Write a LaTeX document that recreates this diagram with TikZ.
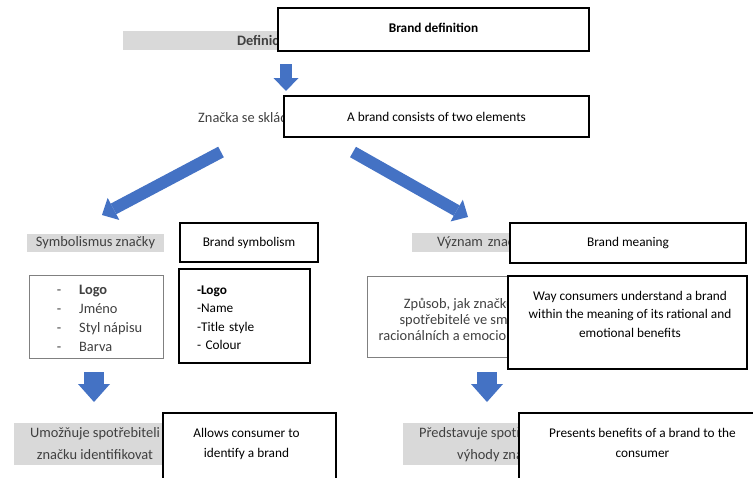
\documentclass[tikz,border=0pt]{standalone}
\usepackage{fontspec}
\setmainfont{Carlito}
\usepackage{tikz}
\usetikzlibrary{positioning, arrows.meta}

\definecolor{arrowblue}{HTML}{4472C4}
\definecolor{bargrey}{HTML}{D9D9D9}
\definecolor{cztext}{HTML}{404040}
\definecolor{czline}{HTML}{808080}

\begin{document}
\fontsize{13.3}{16}\selectfont
\begin{tikzpicture}[x=1pt, y=-1pt,
    every node/.style={inner sep=0pt},
    enbox/.style={draw=black, line width=1.3pt, fill=white, align=center},
    czbox/.style={draw=czline, line width=1pt, fill=white, text=cztext},
    greybar/.style={fill=bargrey, text=cztext, align=center,
        font=\fontsize{14.4}{17}\selectfont},
    cz/.style={text=cztext, font=\fontsize{14.4}{17}\selectfont},
    thinarrow/.style={draw=arrowblue, line width=12pt,
        -{Triangle[width=25pt, length=13pt, line width=0pt]}},
    thickarrow/.style={draw=arrowblue, line width=20pt,
        -{Triangle[width=32pt, length=18pt, line width=0pt]}}]

    \clip (0,0) rectangle (753,477);

    % definition
    \node[greybar, font=\fontsize{14.4}{17}\selectfont\bfseries, minimum height=19pt,
        inner xsep=114pt, text width=60pt, align=left] (defbar) at (267,40.5) {Definice};
    \node[enbox, font=\bfseries, minimum width=311pt, minimum height=43pt]
        (defbox) at (433.5,29.5) {\raisebox{2pt}[\height][\depth]{Brand definition}};

    \coordinate (deffrom) at (286,64);
    \coordinate (defto)   at (286,91);
    \draw[thinarrow] (deffrom) -- (defto);

    % two elements
    \node[cz, anchor=west] (comptext) at (198,118) {Značka se skládá};
    \node[enbox, minimum width=305pt, minimum height=41pt]
        (compbox) at (436.5,116.5) {A brand consists of two elements};

    \coordinate (leftfrom)  at (221,152);
    \coordinate (leftto)    at (102,215);
    \coordinate (rightfrom) at (353,152);
    \coordinate (rightto)   at (468,217);
    \draw[thinarrow] (leftfrom) -- (leftto);
    \draw[thinarrow] (rightfrom) -- (rightto);

    % symbolism
    \node[greybar, minimum width=137pt, minimum height=18pt]
        (symbar) at (95.5,243) {Symbolismus značky};
    \node[enbox, minimum width=138pt, minimum height=39pt]
        (symbox) at (249,242.5) {Brand symbolism};

    \node[czbox, minimum width=134pt, minimum height=83pt,
        font=\fontsize{14.4}{19}\selectfont] (sympoints) at (96,316.5)
        {\raisebox{-2.5pt}[\height][\depth]{\hspace{7pt}\begin{tabular}{@{}l@{\hspace{18pt}}l@{}}
            - & \textbf{Logo}\\
            - & Jméno\\
            - & Styl nápisu\\
            - & Barva
        \end{tabular}}};
    \node[enbox, text width=95pt, inner xsep=18pt, minimum height=94pt,
        align=left, font=\fontsize{13.3}{18.5}\selectfont] (symlist) at (244.5,316)
        {\raisebox{-2.5pt}[\height][\depth]{\begin{tabular}{@{}l@{}}
            \textbf{-Logo}\\-Name\\-Title style\\- Colour
        \end{tabular}}};

    \coordinate (symfrom) at (94,372);
    \coordinate (symto)   at (94,402);
    \draw[thickarrow] (symfrom) -- (symto);

    \node[greybar, minimum width=162pt, minimum height=42pt,
        font=\fontsize{14.4}{22}\selectfont]
        (idbar) at (95,444) {Umožňuje spotřebiteli\\značku identifikovat};
    \node[enbox, minimum width=173pt, minimum height=90pt] (idbox) at (249.5,458) {};
    \node[align=center, font=\fontsize{13.3}{20}\selectfont,
        below=16pt of idbox.north, xshift=-3pt]
        (idtext) {Allows consumer to\\identify a brand};

    % meaning
    \node[greybar, minimum height=19pt, inner xsep=25pt, text width=90pt,
        align=left] (meanbar) at (482,242.5) {Význam značk};
    \node[enbox, minimum width=236pt, minimum height=40pt]
        (meanbox) at (628,243) {Brand meaning};

    \node[czbox, minimum width=231pt, minimum height=81pt] (waypoints) at (482.5,316.5) {};
    \node[cz, align=right, anchor=east, font=\fontsize{14.4}{16}\selectfont]
        (waycz) at (514,319) {Způsob, jak značku\\spotřebitelé ve smy\\racionálních a emocion};
    \node[enbox, minimum width=239pt, minimum height=93pt] (waybox) at (627.5,322.5) {};
    \node[align=center, font=\fontsize{13.3}{18.5}\selectfont,
        below=15.5pt of waybox.north, xshift=2.5pt] (waytext)
        {Way consumers understand a brand\\within the meaning of its rational and\\emotional benefits};

    \coordinate (meanfrom) at (487,372);
    \coordinate (meanto)   at (487,402);
    \draw[thickarrow] (meanfrom) -- (meanto);

    \node[greybar, minimum width=128pt, minimum height=42pt] (benbar) at (467,444) {};
    \node[cz, align=left, anchor=west, font=\fontsize{14.4}{22}\selectfont]
        (bencz) at (419,445) {Představuje spotře\\\hspace*{38pt}výhody značk};
    \node[enbox, minimum width=247pt, minimum height=90pt] (benbox) at (642.5,458) {};
    \node[align=center, font=\fontsize{13.3}{20}\selectfont,
        below=16pt of benbox.north] (bentext)
        {Presents benefits of a brand to the\\consumer};
\end{tikzpicture}
\end{document}
